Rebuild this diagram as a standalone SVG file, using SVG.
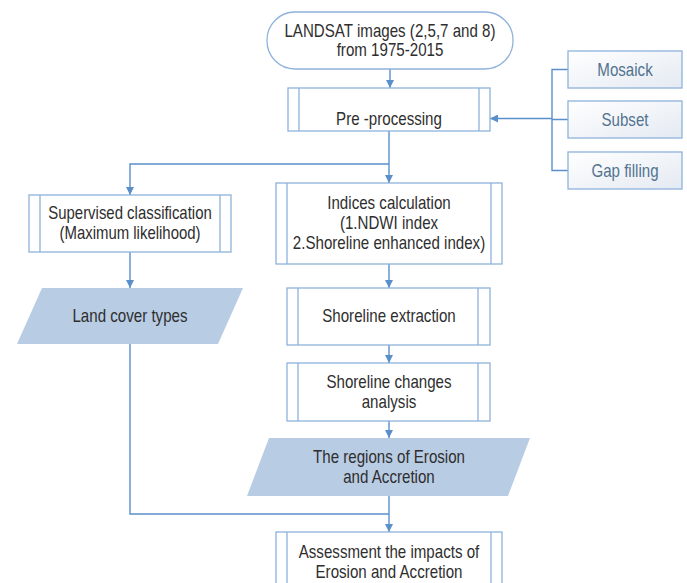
<svg xmlns="http://www.w3.org/2000/svg" width="687" height="583" viewBox="0 0 687 583">
<defs>
<linearGradient id="side" x1="0" y1="0" x2="1" y2="1">
<stop offset="0" stop-color="#ffffff"/>
<stop offset="1" stop-color="#e4eaf2"/>
</linearGradient>
<marker id="arr" viewBox="0 0 10 10" refX="10" refY="5" markerWidth="8" markerHeight="8" markerUnits="userSpaceOnUse" orient="auto">
<path d="M0,0 L10,5 L0,10 z" fill="#5b8fc9"/>
</marker>
<style>
.box{fill:#ffffff;stroke:#8fb2dc;stroke-width:1.3}
.inner{stroke:#8fb2dc;stroke-width:1.3;fill:none}
.side{fill:url(#side);stroke:#8fb2dc;stroke-width:1.3}
.data{fill:#b8cce4;stroke:none}
.t{font-family:"Liberation Sans",Arial,sans-serif;font-size:18px;fill:#2e2e2e;text-anchor:middle}
.ts{font-family:"Liberation Sans",Arial,sans-serif;font-size:18px;fill:#52738f;text-anchor:middle}
.c{fill:none;stroke:#5b8fc9;stroke-width:1.4}
</style>
</defs>
<rect width="687" height="583" fill="#ffffff"/>
<g id="connectors">
<path class="c" d="M390,69 V88" marker-end="url(#arr)"/>
<path class="c" d="M389,131 V183" marker-end="url(#arr)"/>
<path class="c" d="M389,164 H130 V195" marker-end="url(#arr)"/>
<path class="c" d="M130,252 V288" marker-end="url(#arr)"/>
<path class="c" d="M130,344 V514 H389"/>
<path class="c" d="M389,264 V288" marker-end="url(#arr)"/>
<path class="c" d="M389,345 V363" marker-end="url(#arr)"/>
<path class="c" d="M389,421 V438" marker-end="url(#arr)"/>
<path class="c" d="M389,496 V532" marker-end="url(#arr)"/>
<path class="c" d="M568,69.5 H552 V170.5 H568 M552,119.5 H568"/>
<path class="c" d="M552,118.5 H490" marker-end="url(#arr)"/>
</g>
<g id="landsat">
<rect class="box" x="267" y="12" width="246" height="57" rx="28" ry="28"/>
<text class="t" transform="translate(390,37) scale(0.84,1)">LANDSAT images (2,5,7 and 8)</text>
<text class="t" transform="translate(390,56) scale(0.84,1)">from 1975-2015</text>
</g>
<g id="preprocessing">
<rect class="box" x="288" y="88" width="202" height="43"/>
<path class="inner" d="M299,88 V131 M479,88 V131"/>
<text class="t" transform="translate(389,125) scale(0.84,1)">Pre -processing</text>
</g>
<g id="mosaick">
<rect class="side" x="568" y="51" width="114" height="37"/>
<text class="ts" transform="translate(625,76) scale(0.84,1)">Mosaick</text>
</g>
<g id="subset">
<rect class="side" x="568" y="101" width="114" height="37"/>
<text class="ts" transform="translate(625,126) scale(0.84,1)">Subset</text>
</g>
<g id="gapfilling">
<rect class="side" x="568" y="152" width="114" height="37"/>
<text class="ts" transform="translate(625,177) scale(0.84,1)">Gap filling</text>
</g>
<g id="supervised">
<rect class="box" x="29" y="195" width="202" height="57"/>
<path class="inner" d="M40,195 V252 M220,195 V252"/>
<text class="t" transform="translate(130,219) scale(0.83,1)">Supervised classification</text>
<text class="t" transform="translate(130,239) scale(0.83,1)">(Maximum likelihood)</text>
</g>
<g id="landcover">
<polygon class="data" points="42,288 243,288 218,344 17,344"/>
<text class="t" transform="translate(130,322) scale(0.84,1)">Land cover types</text>
</g>
<g id="indices">
<rect class="box" x="276" y="183" width="226" height="81"/>
<path class="inner" d="M287,183 V264 M491,183 V264"/>
<text class="t" transform="translate(389,209) scale(0.84,1)">Indices calculation</text>
<text class="t" transform="translate(389,229) scale(0.84,1)">(1.NDWI index</text>
<text class="t" transform="translate(389,249) scale(0.84,1)">2.Shoreline enhanced index)</text>
</g>
<g id="extraction">
<rect class="box" x="287" y="288" width="203" height="57"/>
<path class="inner" d="M298,288 V345 M478,288 V345"/>
<text class="t" transform="translate(389,322) scale(0.84,1)">Shoreline extraction</text>
</g>
<g id="changes">
<rect class="box" x="287" y="363" width="203" height="58"/>
<path class="inner" d="M298,363 V421 M478,363 V421"/>
<text class="t" transform="translate(389,388) scale(0.84,1)">Shoreline changes</text>
<text class="t" transform="translate(389,408) scale(0.84,1)">analysis</text>
</g>
<g id="regions">
<polygon class="data" points="269,438 530,438 508,496 247,496"/>
<text class="t" transform="translate(389,463) scale(0.84,1)">The regions of Erosion</text>
<text class="t" transform="translate(389,483) scale(0.84,1)">and Accretion</text>
</g>
<g id="assessment">
<rect class="box" x="276" y="532" width="226" height="60"/>
<path class="inner" d="M287,532 V592 M491,532 V592"/>
<text class="t" transform="translate(389,558) scale(0.84,1)">Assessment the impacts of</text>
<text class="t" transform="translate(389,578) scale(0.84,1)">Erosion and Accretion</text>
</g>
</svg>
